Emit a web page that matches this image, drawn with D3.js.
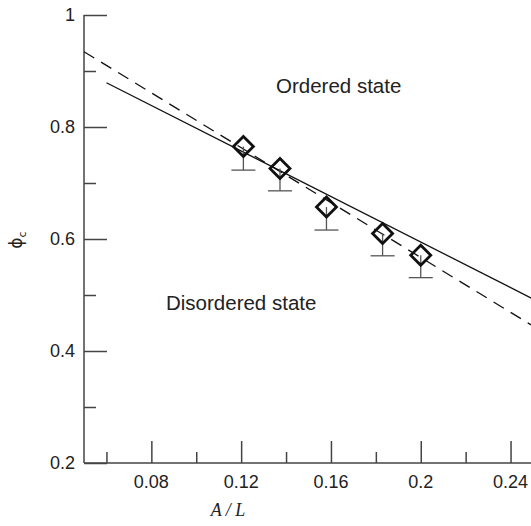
<!DOCTYPE html>
<html>
<head>
<meta charset="utf-8">
<script src="https://cdn.jsdelivr.net/npm/d3@7"></script>
<style>
  body { margin: 0; background: #fff; }
  svg text { font-family: "Liberation Sans", Arial, sans-serif; fill: #222; }
</style>
</head>
<body>
<svg id="chart" width="531" height="526"></svg>
<script>
// data
const ratio   = [0.121, 0.1373, 0.158, 0.183, 0.200];   // A / L
const phiC    = [0.765, 0.726, 0.657, 0.610, 0.571];    // phi_c
const errLow  = [0.042, 0.040, 0.041, 0.040, 0.040];    // lower error bar
const solidFit  = [[0.06, 0.879], [0.25, 0.493]];
const dashedFit = [[0.05, 0.9345], [0.25, 0.4445]];
const xMajor = [0.08, 0.12, 0.16, 0.2, 0.24];
const xMinor = [0.06, 0.10, 0.14, 0.18, 0.22];
const yMajor = [0.2, 0.4, 0.6, 0.8, 1];
const yMinor = [0.3, 0.5, 0.7, 0.9];

const svg = d3.select('#chart');
const x = d3.scaleLinear().domain([0.05, 0.25]).range([84, 533]);
const y = d3.scaleLinear().domain([0.2, 1]).range([463, 15]);

const axisCol = '#444';

// axes lines
svg.append('line').attr('x1', x(0.05)).attr('x2', x(0.05)).attr('y1', y(1)).attr('y2', y(0.2))
  .attr('stroke', axisCol).attr('stroke-width', 1.5);
svg.append('line').attr('x1', x(0.05)).attr('x2', x(0.25)).attr('y1', y(0.2)).attr('y2', y(0.2))
  .attr('stroke', axisCol).attr('stroke-width', 1.5);

// ticks drawn with d3 axes, pointing inward
const yAx = d3.axisRight(y).tickValues(yMajor).tickSize(23).tickFormat('');
const yAxMin = d3.axisRight(y).tickValues(yMinor).tickSize(12).tickFormat('');
const xAx = d3.axisTop(x).tickValues(xMajor).tickSize(22).tickFormat('');
const xAxMin = d3.axisTop(x).tickValues(xMinor).tickSize(11).tickFormat('');

[[yAx, `translate(${x(0.05)},0)`], [yAxMin, `translate(${x(0.05)},0)`],
 [xAx, `translate(0,${y(0.2)})`], [xAxMin, `translate(0,${y(0.2)})`]].forEach(([ax, tr]) => {
  const g = svg.append('g').attr('transform', tr).call(ax);
  g.select('.domain').remove();
  g.selectAll('line').attr('stroke', axisCol).attr('stroke-width', 1.5);
});

// tick labels
svg.append('g').selectAll('text').data(yMajor).join('text')
  .attr('x', 75).attr('y', d => y(d)).attr('dy', '0.36em')
  .attr('text-anchor', 'end').attr('font-size', 18)
  .text(d => d3.format('')(d));
svg.append('g').selectAll('text').data(xMajor).join('text')
  .attr('x', d => x(d)).attr('y', 488)
  .attr('text-anchor', 'middle').attr('font-size', 18)
  .text(d => d3.format('')(d));

// axis titles
svg.append('text').attr('x', 228).attr('y', 516).attr('text-anchor', 'middle')
  .style('font-family', '"Liberation Serif", "Times New Roman", serif')
  .style('font-style', 'italic').attr('font-size', 18).text('A / L');
const yl = svg.append('text').attr('transform', 'translate(22,240) rotate(-90)')
  .attr('text-anchor', 'middle')
  .style('font-family', '"DejaVu Sans", sans-serif').attr('font-size', 17);
yl.append('tspan').text('ϕ');
yl.append('tspan').attr('dy', 4).attr('font-size', 11).text('c');

// fit lines
const line = d3.line().x(d => x(d[0])).y(d => y(d[1]));
svg.append('path').attr('d', line(solidFit)).attr('fill', 'none')
  .attr('stroke', '#111').attr('stroke-width', 1.3);
svg.append('path').attr('d', line(dashedFit)).attr('fill', 'none')
  .attr('stroke', '#111').attr('stroke-width', 1.3).attr('stroke-dasharray', '12,8');

// points
const pts = ratio.map((r, i) => ({ r, p: phiC[i], e: errLow[i] }));
const eb = svg.append('g');
eb.selectAll('.stem').data(pts).join('line')
  .attr('x1', d => x(d.r)).attr('x2', d => x(d.r))
  .attr('y1', d => y(d.p)).attr('y2', d => y(d.p - d.e))
  .attr('stroke', '#555').attr('stroke-width', 1.3);
eb.selectAll('.cap').data(pts).join('line')
  .attr('x1', d => x(d.r) - 12).attr('x2', d => x(d.r) + 12)
  .attr('y1', d => y(d.p - d.e)).attr('y2', d => y(d.p - d.e))
  .attr('stroke', '#555').attr('stroke-width', 1.3);

const diamond = d3.symbol().type(d3.symbolSquare).size(200);
svg.append('g').selectAll('path').data(pts).join('path')
  .attr('d', diamond)
  .attr('transform', d => `translate(${x(d.r)},${y(d.p)}) rotate(45)`)
  .attr('fill', 'none').attr('stroke', '#111').attr('stroke-width', 2.8);

// region labels
svg.append('text').attr('x', 276).attr('y', 93).attr('font-size', 20.5).text('Ordered state');
svg.append('text').attr('x', 166).attr('y', 310).attr('font-size', 20.5).text('Disordered state');
</script>
</body>
</html>
